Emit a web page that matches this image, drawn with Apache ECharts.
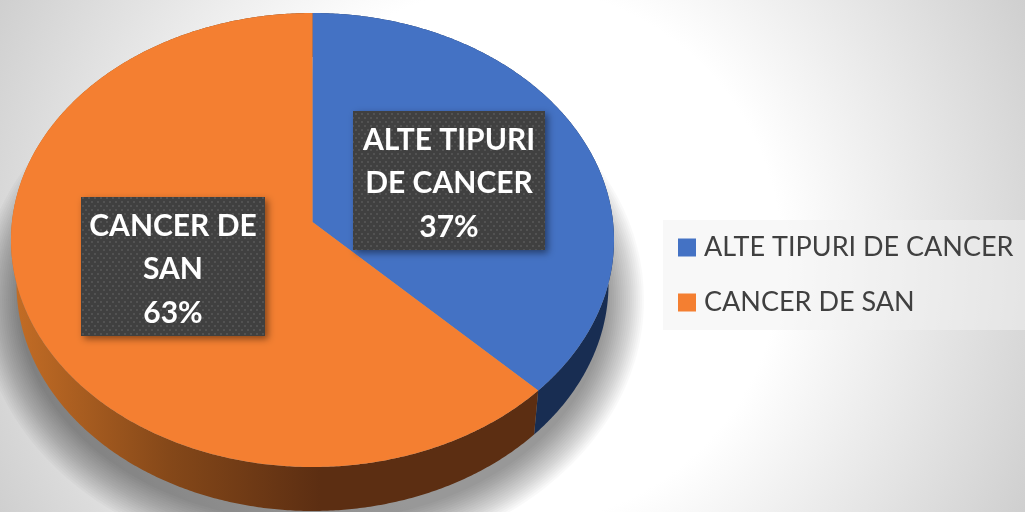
<!DOCTYPE html>
<html>
<head>
<meta charset="utf-8">
<style>
html,body{margin:0;padding:0;background:#fff}
#chart{width:1025px;height:512px}
</style>
<script src="https://cdn.jsdelivr.net/npm/echarts@6/dist/echarts.min.js"></script>
</head>
<body>
<div id="chart"></div>
<script>
const categories = ['ALTE TIPURI DE CANCER', 'CANCER DE SAN'];
const values = [37, 63];
const labelLines = [['ALTE TIPURI', 'DE CANCER'], ['CANCER DE', 'SAN']];
const colors = ['#4472C4', '#F47F31'];

const total = values.reduce((a, b) => a + b, 0);

// disc geometry, the picture has a tilted pie so apex sits above the ellipse centre
const top_ = {cx: 312.5, cy: 240, rx: 301.5, ry: 227};
const low = {cx: 312.5, cy: 284, rx: 296, ry: 227};
const apex = [312.5, 222];
const tilt = 0.04;

const sideFill = [
    '#182D52',
    {type: 'linear', global: true, x: 17, y: 0, x2: 320, y2: 0, colorStops: [
        {offset: 0, color: '#C26C25'},
        {offset: 0.5, color: '#854819'},
        {offset: 1, color: '#5C2E12'}
    ]}
];
const labelBox = [
    {x: 353, y: 111, width: 192, height: 139},
    {x: 81, y: 197, width: 184, height: 139}
];

// dotted fill of the label boxes
const dots = document.createElement('canvas');
dots.width = 6;
dots.height = 8;
const dctx = dots.getContext('2d');
dctx.fillStyle = '#404040';
dctx.fillRect(0, 0, 6, 8);
dctx.fillStyle = '#525252';
dctx.fillRect(1, 1, 2, 2);
dctx.fillRect(4, 5, 2, 2);

// soft shadow under the pie, stacked see-through ellipses
const shadowRings = [];
for (let k = 0; k < 20; k++) {
    shadowRings.push({
        type: 'ellipse',
        z: 0,
        silent: true,
        shape: {cx: 312, cy: 300, rx: 294 + k * 2, ry: 222 + k * 2.2},
        style: {fill: 'rgba(0,0,0,0.024)'}
    });
}

// ray from a point a bit above the centre, hits the unit circle, gives the perspective look
function rim(e, frac) {
    const t = frac * Math.PI * 2;
    const dx = Math.sin(t);
    const dy = -Math.cos(t);
    const pd = -tilt * dy;
    const s = -pd + Math.sqrt(pd * pd + 1 - tilt * tilt);
    return [e.cx + e.rx * s * dx, e.cy + e.ry * (-tilt + s * dy)];
}

function arc(e, from, to) {
    const pts = [];
    const n = Math.max(2, Math.ceil((to - from) * 720));
    for (let i = 0; i <= n; i++) {
        pts.push(rim(e, from + (to - from) * i / n));
    }
    return pts;
}

function renderSlice(params, api) {
    const i = params.seriesIndex;
    const start = api.value(0) / total;
    const end = start + api.value(1) / total;
    const children = [];

    children.push({
        type: 'polygon',
        z2: 1,
        shape: {points: arc(top_, start, end).concat(arc(low, start, end).reverse())},
        style: {fill: sideFill[i]}
    });
    children.push({
        type: 'polygon',
        z2: 2,
        shape: {points: [apex].concat(arc(top_, start, end))},
        style: {fill: colors[i]}
    });

    const box = labelBox[i];
    children.push({
        type: 'rect',
        z2: 3,
        shape: box,
        style: {fill: '#404040', shadowBlur: 7, shadowOffsetX: 3, shadowOffsetY: 3, shadowColor: 'rgba(0,0,0,0.45)'}
    });
    children.push({
        type: 'rect',
        z2: 4,
        shape: box,
        style: {fill: {image: dots, repeat: 'repeat'}}
    });
    children.push({
        type: 'text',
        z2: 5,
        style: {
            text: labelLines[i].concat(api.value(1) + '%').join('\n'),
            x: box.x + box.width / 2,
            y: box.y + box.height / 2 + 3,
            align: 'center',
            verticalAlign: 'middle',
            lineHeight: 43.5,
            fill: '#fff',
            font: 'bold 30px Lato'
        }
    });
    return {type: 'group', children: children};
}

let acc = 0;
const series = categories.map((name, i) => {
    const s = {
        type: 'custom',
        name: name,
        coordinateSystem: 'none',
        silent: true,
        itemStyle: {color: colors[i]},
        renderItem: renderSlice,
        data: [[acc, values[i]]]
    };
    acc += values[i];
    return s;
});

const chart = echarts.init(document.getElementById('chart'), null, {renderer: 'canvas'});
chart.setOption({
    animation: false,
    backgroundColor: {
        type: 'radial', global: true, x: 512, y: 256, r: 573,
        colorStops: [
            {offset: 0, color: '#fff'},
            {offset: 0.47, color: '#fff'},
            {offset: 1, color: '#CFCFCF'}
        ]
    },
    graphic: shadowRings,
    legend: {
        orient: 'vertical',
        left: 663,
        top: 220,
        padding: [14, 30, 14, 15],
        backgroundColor: 'rgba(242,242,242,0.5)',
        data: categories,
        icon: 'rect',
        itemWidth: 18,
        itemHeight: 18,
        itemGap: 28,
        selectedMode: false,
        textStyle: {fontFamily: 'Lato', fontSize: 27, color: '#404040', padding: [0, 0, 0, 3]}
    },
    series: series
});
</script>
</body>
</html>
